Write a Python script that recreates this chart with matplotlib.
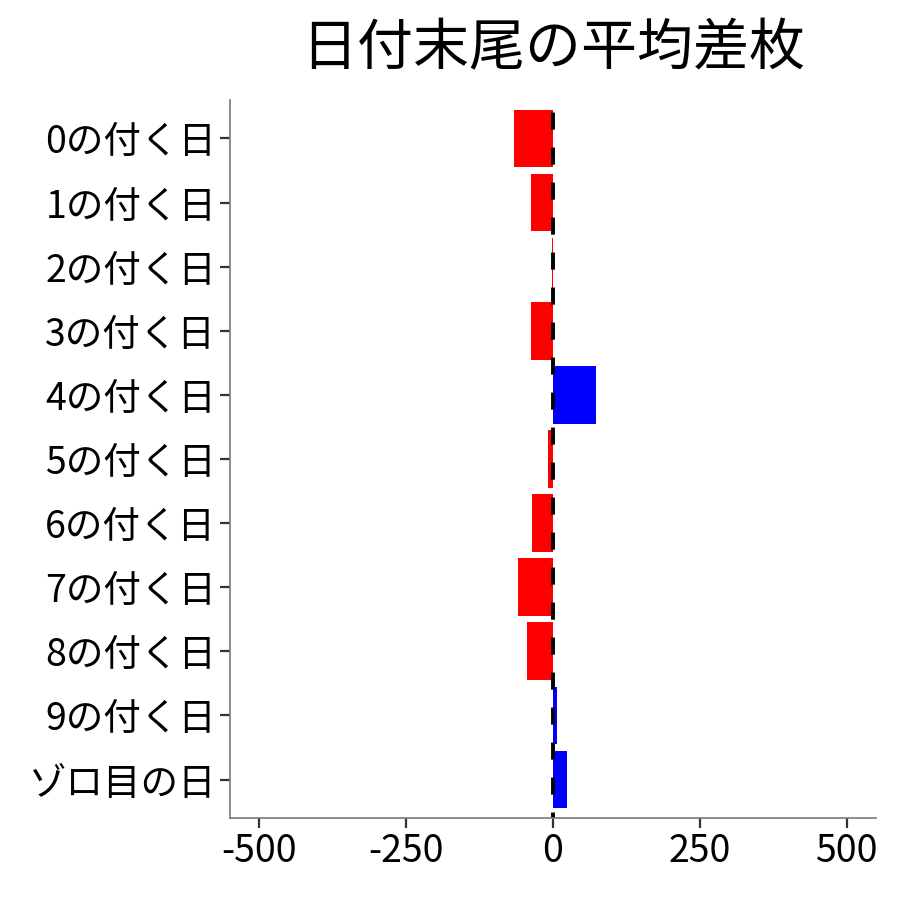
import matplotlib
matplotlib.use("Agg")
import matplotlib.pyplot as plt

plt.rcParams['font.family'] = ['Noto Sans CJK JP', 'DejaVu Sans']

# データ（上から順）
labels = ['0の付く日', '1の付く日', '2の付く日', '3の付く日', '4の付く日',
          '5の付く日', '6の付く日', '7の付く日', '8の付く日', '9の付く日', 'ゾロ目の日']
diff = [-67, -38, -2, -37, 73, -8, -35, -60, -45, 7, 24]
xticks = [-500, -250, 0, 250, 500]

colors = ['blue' if v > 0 else 'red' for v in diff]
ypos = list(range(len(labels)))[::-1]

fig = plt.figure(figsize=(9, 9), dpi=100)
ax = fig.add_axes([0.2556, 0.0911, 0.7177, 0.7978])

ax.barh(ypos, diff, height=0.9, color=colors)
ax.axvline(0, color='black', linewidth=2.8, linestyle=(3, (4.4, 4.6)))

ax.set_xlim(-550, 550)
ax.set_ylim(-0.6, len(labels) - 1 + 0.6)
ax.set_yticks(ypos)
ax.set_yticklabels(labels)
ax.set_xticks(xticks)
ax.set_xticklabels([str(t) for t in xticks])

ax.tick_params(labelsize=27, length=7, width=1.6, color='#333333', labelcolor='black', pad=3)
for s in ['top', 'right']:
    ax.spines[s].set_visible(False)
for s in ['left', 'bottom']:
    ax.spines[s].set_color('#7a7a7a')
    ax.spines[s].set_linewidth(1.2)

ax.set_title('日付末尾の平均差枚', fontsize=40.3, pad=25)

fig.savefig('out.png', dpi=100)
